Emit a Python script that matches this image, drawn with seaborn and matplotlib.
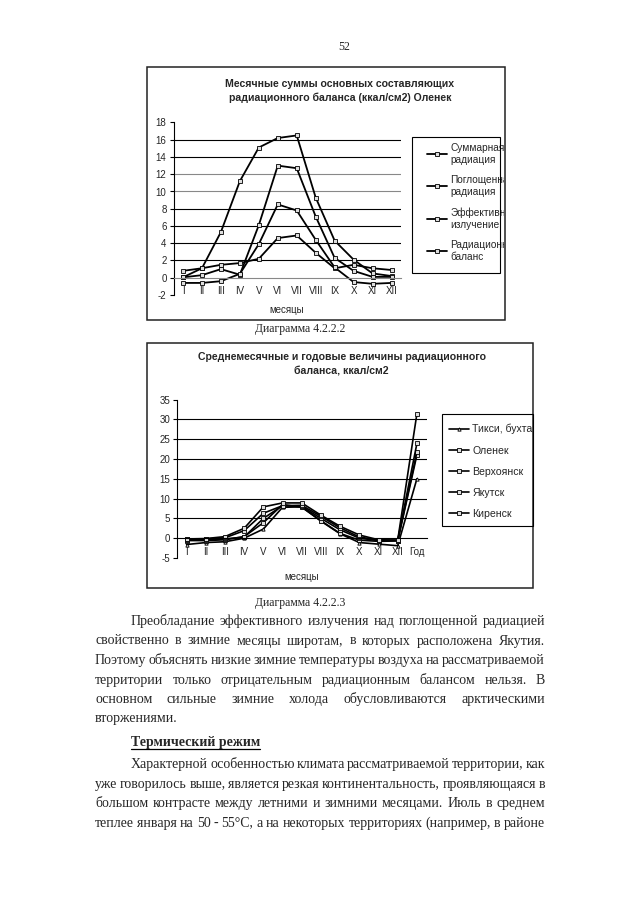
import matplotlib
matplotlib.use("Agg")
import matplotlib.pyplot as plt
import seaborn as sns
import numpy as np
from matplotlib.patches import Rectangle
from matplotlib.lines import Line2D
from matplotlib.transforms import Bbox, TransformedBbox

# ---- data ----
months = ["I", "II", "III", "IV", "V", "VI", "VII", "VIII", "IX", "X", "XI", "XII"]
months_year = months + ["Год"]

# chart 1: Оленек
summ_rad = [0.05, 1.1, 5.3, 11.2, 15.1, 16.2, 16.5, 9.3, 4.3, 2.1, 0.5, 0.2]
absorbed_rad = [0.05, 0.3, 1.0, 0.35, 6.1, 13.0, 12.7, 7.1, 2.3, 0.8, 0.1, 0.1]
effective_rad = [0.8, 1.1, 1.5, 1.7, 2.2, 4.6, 4.9, 2.9, 1.1, 1.5, 1.1, 0.9]
balance_rad = [-0.6, -0.6, -0.4, 0.45, 3.9, 8.5, 7.8, 4.4, 1.2, -0.5, -0.7, -0.6]
labels1 = ["Суммарная\nрадиация", "Поглощенная\nрадиация",
           "Эффективное\nизлучение", "Радиационный\nбаланс"]

# chart 2: stations
stations = ["Тикси, бухта", "Оленек", "Верхоянск", "Якутск", "Киренск"]
tiksi = [-1.6, -1.1, -0.9, 0.0, 2.3, 7.8, 7.9, 4.3, 1.1, -1.1, -1.5, -1.9, 15.0]
olenek = [-0.6, -0.6, -0.4, 0.4, 3.9, 8.5, 7.8, 4.4, 1.2, -0.5, -0.8, -0.7, 21.0]
verkh = [-0.5, -0.4, -0.2, 0.3, 5.0, 8.2, 8.0, 5.0, 2.1, 0.0, -0.6, -0.6, 21.7]
yakutsk = [-0.3, -0.2, 0.1, 1.9, 6.3, 8.2, 8.3, 5.5, 2.6, 0.3, -0.5, -0.5, 23.9]
kirensk = [-0.2, -0.1, 0.4, 2.5, 7.9, 8.9, 8.9, 5.8, 3.0, 0.8, -0.4, -0.5, 31.4]

sns.set_style("white")
plt.rcParams["font.family"] = ["Liberation Sans", "DejaVu Sans"]

W, H = 640, 905
fig = plt.figure(figsize=(W / 100, H / 100), dpi=100)


def fx(x):
    return x / W


def fy(y):
    return 1 - y / H


def box(x0, y0, x1, y1, lw=1.1, ec="#222222"):
    fig.add_artist(Rectangle((fx(x0), fy(y1)), (x1 - x0) / W, (y1 - y0) / H,
                             transform=fig.transFigure, fill=False, ec=ec, lw=lw))


def style_axes(ax, n, ymin, ymax, step, gray=()):
    ax.set_xlim(-0.5, n - 0.5)
    ax.set_ylim(ymin, ymax)
    ticks = np.arange(ymin, ymax + step / 2, step)
    ax.set_yticks(ticks)
    ax.set_yticklabels([f"{t:g}" for t in ticks], fontsize=7)
    for t in ticks[1:-1]:
        if t == 0:
            continue
        ax.axhline(t, color="#888888" if t in gray else "black", lw=0.8, zorder=0)
    for s in ["top", "right"]:
        ax.spines[s].set_visible(False)
    ax.spines["left"].set_color("black")
    ax.spines["left"].set_linewidth(0.8)
    ax.spines["bottom"].set_position(("data", 0))
    ax.spines["bottom"].set_color("#888888" if 0 in gray else "black")
    ax.spines["bottom"].set_linewidth(0.8)
    ax.set_xticks(np.arange(-0.5, n, 1), minor=True)
    ax.tick_params(axis="x", which="major", length=0, pad=6, labelsize=7)
    ax.tick_params(axis="x", which="minor", length=3, direction="out", color="black")
    ax.tick_params(axis="y", length=3, direction="out", color="black", pad=2, left=True)
    ax.set_xlabel("")
    ax.set_ylabel("")


# ---- chart 1 ----
box(147, 67, 505, 320)
ax1 = fig.add_axes([fx(173.5), fy(295), (401 - 173.5) / W, (295 - 122.5) / H])
for vals, lab in zip([summ_rad, absorbed_rad, effective_rad, balance_rad], labels1):
    sns.lineplot(x=months, y=vals, ax=ax1, color="black", lw=1.3, sort=False,
                 marker="s", markersize=2.6, markerfacecolor="#dddddd",
                 markeredgecolor="black", markeredgewidth=0.6, label=lab)
style_axes(ax1, 12, -2, 18, 2, gray=(0, 10, 12))
leg1 = ax1.legend(loc="upper left", bbox_to_anchor=(fx(427), fy(143)),
                  bbox_transform=fig.transFigure, frameon=False, fontsize=7.3,
                  handlelength=2.0, handletextpad=0.3, labelspacing=1.05,
                  borderpad=0, borderaxespad=0)
# the chart area clips the legend text, as in the spreadsheet original
clip1 = TransformedBbox(Bbox([[fx(147), fy(320)], [fx(503.5), fy(67)]]), fig.transFigure)
for t in leg1.get_texts():
    t.set_clip_box(clip1)
    t.set_clip_on(True)
box(412, 137, 500, 273, lw=0.8, ec="black")

fig.text(fx(340), fy(84), "Месячные суммы основных составляющих", ha="center",
         va="center", fontsize=7.6, fontweight="bold")
fig.text(fx(340), fy(98), "радиационного баланса (ккал/см2) Оленек", ha="center",
         va="center", fontsize=7.6, fontweight="bold")
fig.text(fx(287), fy(310), "месяцы", ha="center", va="center", fontsize=7)

# ---- chart 2 ----
box(147, 343, 533, 588)
ax2 = fig.add_axes([fx(177), fy(558), (426.5 - 177) / W, (558 - 399.5) / H])
markers2 = ["^", "s", "s", "s", "s"]
for vals, lab, mk in zip([tiksi, olenek, verkh, yakutsk, kirensk], stations, markers2):
    sns.lineplot(x=months_year, y=vals, ax=ax2, color="black", lw=1.2, sort=False,
                 marker=mk, markersize=2.4, markerfacecolor="#dddddd",
                 markeredgecolor="black", markeredgewidth=0.6, label=lab)
style_axes(ax2, 13, -5, 35, 5)
ax2.legend(loc="upper left", bbox_to_anchor=(fx(449), fy(424)),
           bbox_transform=fig.transFigure, frameon=False, fontsize=7.6,
           handlelength=1.9, handletextpad=0.3, labelspacing=1.05,
           borderpad=0, borderaxespad=0)
box(442, 414, 533, 526, lw=0.8, ec="black")

fig.text(fx(342), fy(357), "Среднемесячные и годовые величины радиационного",
         ha="center", va="center", fontsize=7.6, fontweight="bold")
fig.text(fx(341), fy(372), "баланса, ккал/см2", ha="center", va="center",
         fontsize=7.6, fontweight="bold")
fig.text(fx(302), fy(577), "месяцы", ha="center", va="center", fontsize=7)

# ---- page text ----
serif = ["Liberation Serif", "DejaVu Serif"]
fig.text(fx(344), fy(47), "52", ha="center", va="center", fontsize=8.5, family=serif)
fig.text(fx(300), fy(329), "Диаграмма 4.2.2.2", ha="center", va="center",
         fontsize=8.5, family=serif)
fig.text(fx(300), fy(603), "Диаграмма 4.2.2.3", ha="center", va="center",
         fontsize=8.5, family=serif)

renderer = fig.canvas.get_renderer()


def text_width(s, size, weight="normal"):
    t = fig.text(0, 0, s, fontsize=size, family=serif, fontweight=weight)
    w = t.get_window_extent(renderer).width
    t.remove()
    return w


LEFT, RIGHT, INDENT = 95, 545, 131
ref_line = "Поэтому объяснять низкие зимние температуры воздуха на рассматриваемой"
body_size = 1.03 * 10 * (RIGHT - LEFT - 6) / text_width(ref_line, 10)


def put_line(s, base_y, x0, justify=True):
    words = s.split(" ")
    if not justify or len(words) == 1:
        fig.text(fx(x0), fy(base_y), s, fontsize=body_size, family=serif, va="baseline")
        return
    widths = [text_width(w, body_size) for w in words]
    gap = (RIGHT - x0 - sum(widths)) / (len(words) - 1)
    x = x0
    for w, wd in zip(words, widths):
        fig.text(fx(x), fy(base_y), w, fontsize=body_size, family=serif, va="baseline")
        x += wd + gap


para1 = [
    "Преобладание эффективного излучения над поглощенной радиацией",
    "свойственно в зимние месяцы широтам, в которых расположена Якутия.",
    "Поэтому объяснять низкие зимние температуры воздуха на рассматриваемой",
    "территории только отрицательным радиационным балансом нельзя. В",
    "основном сильные зимние холода обусловливаются арктическими",
    "вторжениями.",
]
para2 = [
    "Характерной особенностью климата рассматриваемой территории, как",
    "уже говорилось выше, является резкая континентальность, проявляющаяся в",
    "большом контрасте между летними и зимними месяцами. Июль в среднем",
    "теплее января на 50 - 55°C, а на некоторых территориях (например, в районе",
]
base1 = [625, 644.5, 664, 683.5, 703, 722]
base2 = [768, 787.5, 807, 826.5]
for i, (s, y) in enumerate(zip(para1, base1)):
    put_line(s, y, INDENT if i == 0 else LEFT, justify=(i < len(para1) - 1))
for i, (s, y) in enumerate(zip(para2, base2)):
    put_line(s, y, INDENT if i == 0 else LEFT, justify=True)

fig.text(fx(INDENT), fy(746), "Термический режим", fontsize=body_size,
         family=serif, fontweight="bold", va="baseline")
hw = text_width("Термический режим", body_size, "bold")
fig.add_artist(Line2D([fx(INDENT), fx(INDENT + hw)], [fy(748.5), fy(748.5)],
                      transform=fig.transFigure, color="black", lw=0.9))

fig.savefig("out.png", dpi=100, facecolor="white")
